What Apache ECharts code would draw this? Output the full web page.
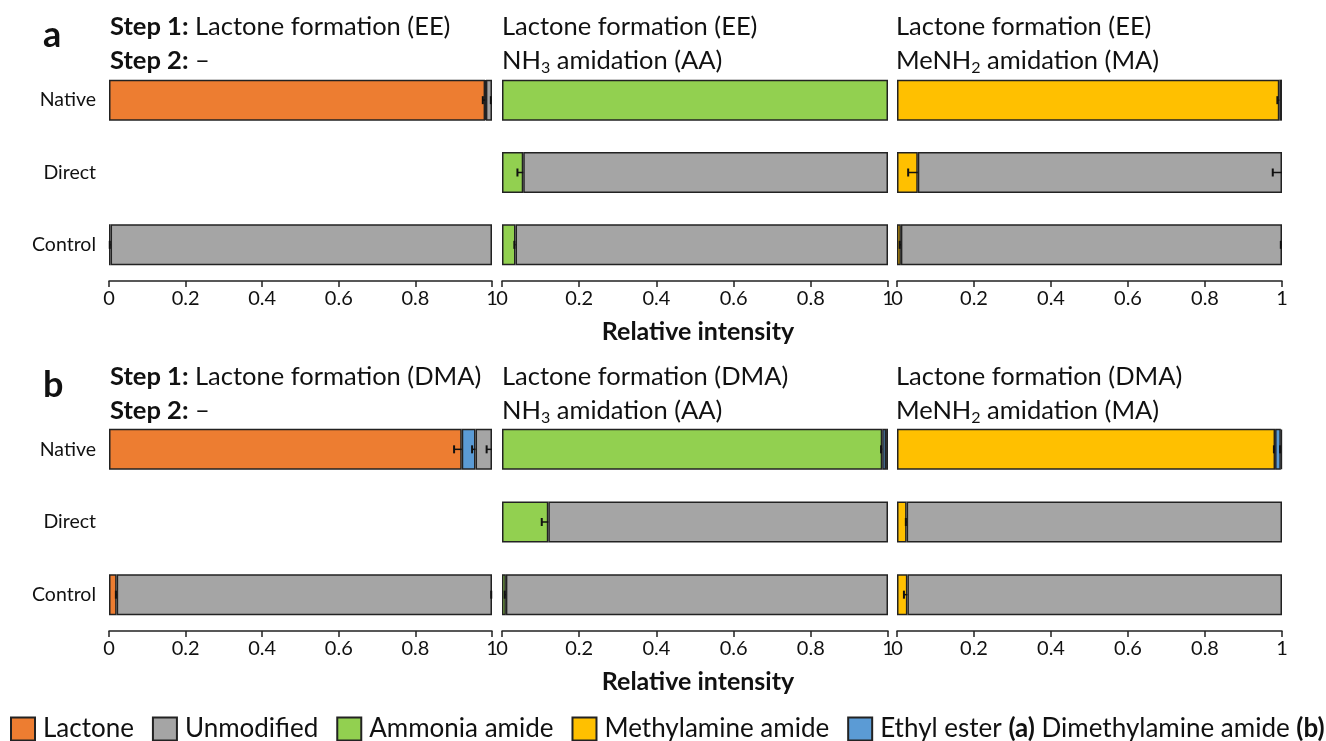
<!DOCTYPE html>
<html>
<head>
<meta charset="utf-8">
<script src="https://cdn.jsdelivr.net/npm/echarts@6/dist/echarts.min.js"></script>
<style>html,body{margin:0;padding:0;background:#fff}#c{width:1326px;height:741px}</style>
</head>
<body>
<div id="c"></div>
<script>
const categories = ['Native', 'Direct', 'Control'];
const xTicks = ['0', '0.2', '0.4', '0.6', '0.8', '1'];
const seriesNames = ['Lactone', 'Unmodified', 'Ammonia amide', 'Methylamine amide', 'Ethyl ester (a) Dimethylamine amide (b)'];

// Row a, panel 1: Lactone formation (EE), no step 2
const a1Lactone = [0.982, null, 0.004];
const a1Blue = [0.002, null, null];
const a1Unmod = [0.016, null, 0.996];
const a1LactoneErr = [0.006, null, 0.002];
const a1UnmodErr = [0.003, null, null];

// Row a, panel 2: EE + NH3 amidation (AA)
const a2Amide = [1.0, 0.055, 0.035];
const a2Unmod = [null, 0.945, 0.965];
const a2AmideErr = [null, 0.015, 0.003];

// Row a, panel 3: EE + MeNH2 amidation (MA)
const a3Amide = [0.993, 0.054, 0.01];
const a3Blue = [0.007, null, null];
const a3Unmod = [null, 0.946, 0.99];
const a3AmideErr = [0.005, 0.025, 0.003];
const a3UnmodErr = [null, 0.024, 0.003];

// Row b, panel 1: Lactone formation (DMA), no step 2
const b1Lactone = [0.921, null, 0.02];
const b1Blue = [0.036, null, null];
const b1Unmod = [0.043, null, 0.98];
const b1LactoneErr = [0.02, null, 0.002];
const b1BlueErr = [0.009, null, null];
const b1UnmodErr = [0.014, null, 0.002];

// Row b, panel 2: DMA + NH3 amidation (AA)
const b2Amide = [0.985, 0.12, 0.01];
const b2Blue = [0.01, null, null];
const b2Unmod = [0.005, 0.88, 0.99];
const b2AmideErr = [0.003, 0.017, 0.003];

// Row b, panel 3: DMA + MeNH2 amidation (MA)
const b3Amide = [0.982, 0.025, 0.027];
const b3Blue = [0.015, null, null];
const b3Unmod = [0.003, 0.975, 0.973];
const b3AmideErr = [0.003, 0.002, 0.009];
const b3BlueErr = [0.002, null, null];

const colors = {
  'Lactone': '#ED7D31',
  'Unmodified': '#A5A5A5',
  'Ammonia amide': '#92D050',
  'Methylamine amide': '#FFC000',
  'Ethyl ester (a) Dimethylamine amide (b)': '#5B9BD5'
};

const BLUE = 'Ethyl ester (a) Dimethylamine amide (b)';
// each panel: list of [seriesName, values, errors] in stacking order
const panels = [
  {row: 0, col: 0, segs: [['Lactone', a1Lactone, a1LactoneErr], [BLUE, a1Blue, null], ['Unmodified', a1Unmod, a1UnmodErr]]},
  {row: 0, col: 1, segs: [['Ammonia amide', a2Amide, a2AmideErr], ['Unmodified', a2Unmod, null]]},
  {row: 0, col: 2, segs: [['Methylamine amide', a3Amide, a3AmideErr], [BLUE, a3Blue, null], ['Unmodified', a3Unmod, a3UnmodErr]]},
  {row: 1, col: 0, segs: [['Lactone', b1Lactone, b1LactoneErr], [BLUE, b1Blue, b1BlueErr], ['Unmodified', b1Unmod, b1UnmodErr]]},
  {row: 1, col: 1, segs: [['Ammonia amide', b2Amide, b2AmideErr], [BLUE, b2Blue, null], ['Unmodified', b2Unmod, null]]},
  {row: 1, col: 2, segs: [['Methylamine amide', b3Amide, b3AmideErr], [BLUE, b3Blue, b3BlueErr], ['Unmodified', b3Unmod, null]]}
];

const FONT = 'Lato';
const colLeft = [109, 502, 897];
const colWidth = [383, 386, 385];
const rowTop = [64, 413];
const rowHeight = [217, 218];

const grids = [], xAxes = [], yAxes = [], series = [];
panels.forEach((p, i) => {
  grids.push({left: colLeft[p.col], width: colWidth[p.col], top: rowTop[p.row], height: rowHeight[p.row], containLabel: false});
  xAxes.push({
    type: 'value', gridIndex: i, min: 0, max: 1, interval: 0.2,
    axisLine: {show: true, lineStyle: {color: '#222', width: 1.5}},
    axisTick: {show: true, length: 6, lineStyle: {color: '#222', width: 1.5}},
    splitLine: {show: false},
    axisLabel: {color: '#111', fontFamily: FONT, fontSize: 20, margin: 8,
      formatter: v => xTicks[Math.round(v / 0.2)]},
    name: p.col === 1 ? 'Relative intensity' : '',
    nameLocation: 'middle', nameGap: 38,
    nameTextStyle: {color: '#111', fontFamily: FONT, fontSize: 25, fontWeight: 'bold', padding: [0, 0, 0, 6]}
  });
  yAxes.push({
    type: 'category', gridIndex: i, data: categories, inverse: true,
    axisLine: {show: false}, axisTick: {show: false}, splitLine: {show: false},
    axisLabel: {show: p.col === 0, color: '#111', fontFamily: FONT, fontSize: 19.5, margin: 13}
  });
  const errData = [];
  const cum = [0, 0, 0];
  p.segs.forEach(([name, vals, errs]) => {
    series.push({
      type: 'bar', name: name, stack: 'p' + i, xAxisIndex: i, yAxisIndex: i,
      data: vals, barWidth: 41,
      itemStyle: {color: colors[name], borderColor: '#222', borderWidth: 1.5},
      emphasis: {disabled: true}
    });
    vals.forEach((v, k) => {
      if (v != null) {
        cum[k] += v;
        if (errs && errs[k] != null) errData.push([cum[k], k, errs[k]]);
      }
    });
  });
  series.push({
    type: 'custom', xAxisIndex: i, yAxisIndex: i, z: 10, data: errData,
    renderItem: (params, api) => {
      const end = api.value(0), cat = api.value(1), err = api.value(2);
      const p1 = api.coord([end, cat]);
      const p0 = api.coord([end - err, cat]);
      const h = 8;
      return {type: 'group', children: [
        {type: 'line', shape: {x1: p0[0], y1: p0[1], x2: p1[0], y2: p1[1]}, style: {stroke: '#111', lineWidth: 1.5}},
        {type: 'line', shape: {x1: p0[0], y1: p0[1] - h / 2, x2: p0[0], y2: p0[1] + h / 2}, style: {stroke: '#111', lineWidth: 2}}
      ]};
    }
  });
});

const titleRich = {
  b: {fontFamily: FONT, fontSize: 25.5, fontWeight: 'bold', color: '#111'},
  sub: {fontFamily: FONT, fontSize: 16, color: '#111', padding: [14, 0, 0, 0]}
};
const titleTextStyle = {fontFamily: FONT, fontSize: 25.5, fontWeight: 'normal', color: '#111', lineHeight: 34, rich: titleRich};
const titles = [
  {text: 'a', left: 38, top: 12, textStyle: {fontFamily: FONT, fontSize: 36, fontWeight: 'bold', color: '#111'}},
  {text: 'b', left: 38, top: 362, textStyle: {fontFamily: FONT, fontSize: 36, fontWeight: 'bold', color: '#111'}},
  {text: '{b|Step 1:} Lactone formation (EE)\n{b|Step 2:} –', left: 105, top: 5},
  {text: 'Lactone formation (EE)\nNH{sub|3} amidation (AA)', left: 497, top: 5},
  {text: 'Lactone formation (EE)\nMeNH{sub|2} amidation (MA)', left: 891, top: 5},
  {text: '{b|Step 1:} Lactone formation (DMA)\n{b|Step 2:} –', left: 105, top: 355},
  {text: 'Lactone formation (DMA)\nNH{sub|3} amidation (AA)', left: 497, top: 355},
  {text: 'Lactone formation (DMA)\nMeNH{sub|2} amidation (MA)', left: 891, top: 355}
].map((t, i) => i < 2 ? t : Object.assign({padding: 5, textStyle: titleTextStyle}, t));

const option = {
  animation: false,
  backgroundColor: '#fff',
  title: titles,
  legend: {
    data: seriesNames,
    left: 10, top: 716, padding: 0, width: 1316,
    itemWidth: 24, itemHeight: 23, itemGap: 18,
    icon: 'rect',
    selectedMode: false,
    textStyle: {fontFamily: FONT, fontSize: 26, color: '#111', padding: [0, 0, 0, 3],
      rich: {b: {fontFamily: FONT, fontSize: 26, fontWeight: 'bold', color: '#111'}}},
    formatter: name => name === BLUE
      ? 'Ethyl ester {b|(a)} Dimethylamine amide {b|(b)}' : name
  },
  grid: grids,
  xAxis: xAxes,
  yAxis: yAxes,
  series: series
};

const chart = echarts.init(document.getElementById('c'), null, {renderer: 'canvas'});
chart.setOption(option);
</script>
</body>
</html>
